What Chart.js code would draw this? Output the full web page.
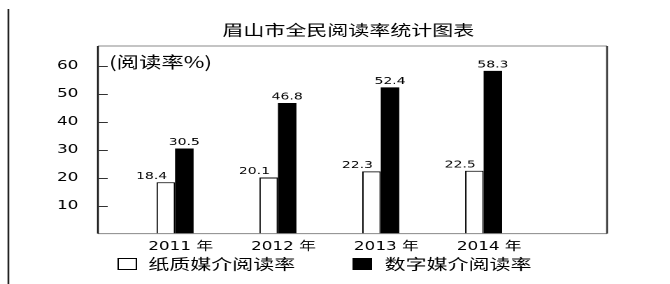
<!DOCTYPE html>
<html>
<head>
<meta charset="utf-8">
<script src="https://cdn.jsdelivr.net/npm/chart.js@4"></script>
<style>
  html, body { margin: 0; padding: 0; background: #fff; overflow: hidden; }
  #wrap { position: absolute; left: 0; top: 0; width: 479px; height: 284px;
          transform: scaleX(1.3987); transform-origin: 0 0; }
</style>
</head>
<body>
<div id="wrap"><canvas id="c"></canvas></div>
<script>
const title = '眉山市全民阅读率统计图表';
const unitLabel = '(阅读率%)';
const categories = ['2011 年', '2012 年', '2013 年', '2014 年'];
const categoryPos = [1, 2, 3, 4];
const seriesNames = ['纸质媒介阅读率', '数字媒介阅读率'];
const paperRate = [18.4, 20.1, 22.3, 22.5];
const digitalRate = [30.5, 46.8, 52.4, 58.3];
const yTicks = [10, 20, 30, 40, 50, 60];

const FONT = '"DejaVu Sans", "Noto Sans CJK SC", sans-serif';
const CJK = '"Noto Sans CJK SC", "DejaVu Sans", sans-serif';

const decorPlugin = {
  id: 'decor',
  afterLayout(chart) {
    // shift the title block so its centre sits where the reference has it
    if (chart.titleBlock) {
      chart.titleBlock.left += 32;
      chart.titleBlock.right += 32;
    }
  },
  afterDatasetsDraw(chart) {
    const ctx = chart.ctx;
    const a = chart.chartArea;
    const ys = chart.scales.y;
    ctx.save();
    // left page line
    ctx.strokeStyle = '#222';
    ctx.lineWidth = 1.3;
    ctx.beginPath(); ctx.moveTo(6, 9); ctx.lineTo(6, 284); ctx.stroke();
    // frame
    ctx.strokeStyle = '#888';
    ctx.lineWidth = 1;
    ctx.beginPath(); ctx.moveTo(a.left, a.top); ctx.lineTo(a.right, a.top); ctx.stroke();
    ctx.beginPath(); ctx.moveTo(a.left, a.bottom); ctx.lineTo(a.right, a.bottom); ctx.stroke();
    ctx.strokeStyle = '#333';
    ctx.lineWidth = 1.3;
    ctx.beginPath(); ctx.moveTo(a.right, a.top); ctx.lineTo(a.right, a.bottom); ctx.stroke();
    ctx.strokeStyle = '#111';
    ctx.beginPath(); ctx.moveTo(a.left, a.top); ctx.lineTo(a.left, a.bottom); ctx.stroke();
    // inward tick marks
    ctx.lineWidth = 1;
    ctx.strokeStyle = '#333';
    yTicks.forEach(v => {
      const y = Math.round(ys.getPixelForValue(v)) + 0.5;
      ctx.beginPath(); ctx.moveTo(a.left, y); ctx.lineTo(a.left + 7, y); ctx.stroke();
    });
    // unit label
    ctx.fillStyle = '#000';
    ctx.font = '16px ' + CJK;
    ctx.textAlign = 'left';
    ctx.textBaseline = 'middle';
    ctx.fillText(unitLabel, a.left + 8, ys.getPixelForValue(60) - 4);
    // data labels
    ctx.font = '10px ' + FONT;
    ctx.textBaseline = 'bottom';
    chart.data.datasets.forEach((ds, di) => {
      const meta = chart.getDatasetMeta(di);
      meta.data.forEach((bar, i) => {
        const txt = ds.data[i].y.toFixed(1);
        if (di === 0) {
          ctx.textAlign = 'right';
          ctx.fillText(txt, bar.x + 1, bar.y - 1);
        } else {
          ctx.textAlign = 'center';
          ctx.fillText(txt, bar.x, bar.y - 1);
        }
      });
    });
    // legend
    const ly = 264;
    const items = [{ x: 84, tx: 106 }, { x: 252, tx: 275 }];
    chart.data.datasets.forEach((ds, di) => {
      const it = items[di];
      ctx.fillStyle = ds.backgroundColor;
      ctx.fillRect(it.x, ly - 5.5, 13, 11);
      ctx.strokeStyle = '#000';
      ctx.lineWidth = 1;
      ctx.strokeRect(it.x + 0.5, ly - 5.5, 13, 11);
      ctx.fillStyle = '#000';
      ctx.font = '15px ' + CJK;
      ctx.textAlign = 'left';
      ctx.textBaseline = 'middle';
      ctx.fillText(ds.label, it.tx, ly);
    });
    ctx.restore();
  }
};

new Chart(document.getElementById('c'), {
  type: 'bar',
  data: {
    datasets: [
      {
        label: seriesNames[0],
        data: categoryPos.map((x, i) => ({ x: x, y: paperRate[i] })),
        backgroundColor: '#ffffff',
        borderColor: '#000000',
        borderWidth: { top: 1, left: 1, right: 1, bottom: 0 },
        borderSkipped: 'bottom'
      },
      {
        label: seriesNames[1],
        data: categoryPos.map((x, i) => ({ x: x, y: digitalRate[i] })),
        backgroundColor: '#000000',
        borderColor: '#000000',
        borderWidth: 0
      }
    ]
  },
  options: {
    responsive: true,
    maintainAspectRatio: false,
    animation: false,
    devicePixelRatio: 2,
    categoryPercentage: 0.36,
    barPercentage: 1,
    layout: { padding: { left: 0, right: 45, top: 0, bottom: 24 } },
    plugins: {
      legend: { display: false },
      tooltip: { enabled: false },
      title: {
        display: true,
        text: title,
        color: '#000',
        font: { family: CJK, size: 15, weight: 'normal' },
        padding: { top: 21, bottom: 7 }
      }
    },
    scales: {
      x: {
        type: 'linear',
        min: 0.25,
        max: 5.2,
        offset: false,
        grid: { display: false, drawTicks: false },
        border: { display: false },
        afterBuildTicks(scale) { scale.ticks = categoryPos.map(v => ({ value: v })); },
        ticks: {
          color: '#000',
          font: { family: FONT, size: 12 },
          padding: 6,
          labelOffset: 4,
          maxRotation: 0,
          autoSkip: false,
          callback: (v) => categories[categoryPos.indexOf(v)] ?? ''
        }
      },
      y: {
        min: 0,
        max: 67.2,
        grid: { display: false, drawTicks: false },
        border: { display: false },
        afterBuildTicks(scale) { scale.ticks = yTicks.map(v => ({ value: v })); },
        afterFit(scale) { scale.width = 70; },
        ticks: {
          color: '#000',
          font: { family: FONT, size: 12 },
          padding: 14
        }
      }
    }
  },
  plugins: [decorPlugin]
});
</script>
</body>
</html>
